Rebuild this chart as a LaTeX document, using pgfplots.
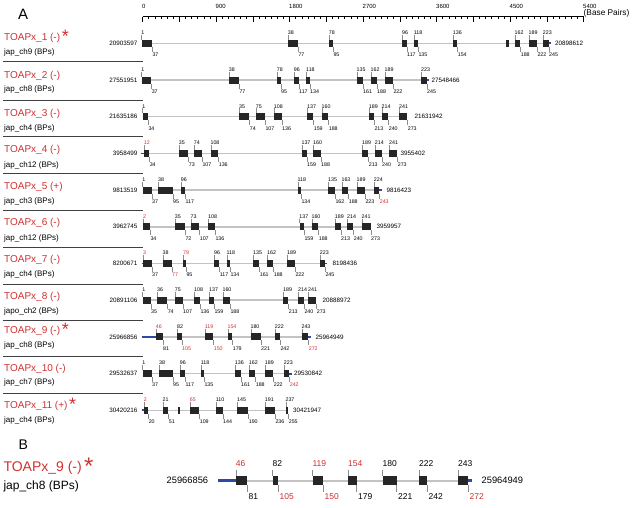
\documentclass[border=0pt]{standalone}
\usepackage{pgfplots}
\pgfplotsset{compat=1.18}
\usepackage{pgfplotstable}
\usepackage{fontspec}
\setmainfont{Liberation Sans}
\definecolor{tred}{RGB}{208,48,48}
\definecolor{tblue}{RGB}{48,72,165}
\definecolor{bbone}{RGB}{195,195,195}
\definecolor{tickg}{RGB}{140,140,140}
\newcommand\lbA{\fontsize{5.3}{5.3}\selectfont}
\newcommand\lbB{\fontsize{8.5}{8.5}\selectfont}
\newcommand\crd{\fontsize{6.3}{6.3}\selectfont}
\newcommand\crdB{\fontsize{9.3}{9.3}\selectfont}
\newcommand\nmA{\fontsize{10}{10}\selectfont}
\newcommand\chA{\fontsize{8}{8}\selectfont}
\newcommand\starA{\raisebox{-2pt}{\fontsize{18}{18}\selectfont *}}
\pgfplotsset{
  nomark/.style={only marks, mark=*, mark size=0pt, mark options={draw=none, fill=none}},
  hseg/.style 2 args={nomark, error bars/.cd, x dir=plus, x explicit, error mark=none, error bar style={line width=#1, draw=#2, line cap=butt}},
  vseg/.style 2 args={nomark, error bars/.cd, y dir=plus, y explicit, error mark=none, error bar style={line width=#1, draw=#2, line cap=butt}},
  lblblack/.style 2 args={nomark, point meta=explicit symbolic,
     x filter/.expression={\thisrow{#2}>0.5 ? nan : x},
     nodes near coords, nodes near coords style={anchor=west, inner sep=0pt, font=#1, text=black}},
  lblred/.style 2 args={nomark, point meta=explicit symbolic,
     x filter/.expression={\thisrow{#2}>0.5 ? x : nan},
     nodes near coords, nodes near coords style={anchor=west, inner sep=0pt, font=#1, text=tred}},
}
% exons: start, end (pixel positions), row, label above, label below, red flags
\pgfplotstableread{
x1 x2 y top bot ct cb
141.5 152.0 43.3 1 37 0 0
288.0 298.0 43.3 38 77 0 0
329.0 333.0 43.3 78 95 0 0
402.3 406.7 43.3 96 117 0 0
414.0 418.0 43.3 118 135 0 0
453.0 457.3 43.3 136 154 0 0
514.7 520.3 43.3 162 188 0 0
528.7 537.0 43.3 189 222 0 0
543.0 548.7 43.3 223 245 0 0
141.5 151.3 80.0 1 37 0 0
229.0 239.0 80.0 38 77 0 0
277.0 280.7 80.0 78 95 0 0
294.0 298.7 80.0 96 117 0 0
306.3 309.7 80.0 118 134 0 0
356.7 362.7 80.0 135 161 0 0
370.7 376.7 80.0 162 188 0 0
384.7 393.0 80.0 189 222 0 0
421.3 426.7 80.0 223 245 0 0
142.5 148.0 116.7 1 34 0 0
239.3 249.3 116.7 35 74 0 0
256.0 265.0 116.7 75 107 0 0
274.0 281.7 116.7 108 136 0 0
307.3 313.3 116.7 137 159 0 0
321.7 328.3 116.7 160 188 0 0
369.0 374.0 116.7 189 213 0 0
381.7 388.3 116.7 214 240 0 0
399.3 407.3 116.7 241 273 0 0
144.0 149.3 153.4 12 34 1 0
179.0 188.3 153.4 35 73 0 0
194.0 202.0 153.4 74 107 0 0
210.7 218.3 153.4 108 136 0 0
301.7 306.7 153.4 137 159 0 0
313.3 320.7 153.4 160 188 0 0
362.3 368.3 153.4 189 213 0 0
375.0 381.7 153.4 214 240 0 0
389.3 397.3 153.4 241 273 0 0
142.5 151.7 190.1 1 37 0 0
158.3 172.7 190.1 38 95 0 0
181.0 185.0 190.1 96 117 0 0
297.7 301.0 190.1 118 134 0 0
328.3 335.0 190.1 135 162 0 0
341.7 348.3 190.1 163 188 0 0
356.7 365.0 190.1 189 223 0 0
374.0 379.3 190.1 224 243 0 1
143.3 150.0 226.8 2 34 1 0
175.0 185.0 226.8 35 72 0 0
190.7 199.3 226.8 73 107 0 0
208.3 215.0 226.8 108 136 0 0
299.5 304.0 226.8 137 159 0 0
311.7 318.3 226.8 160 188 0 0
335.0 340.7 226.8 189 213 0 0
347.3 353.3 226.8 214 240 0 0
361.7 370.7 226.8 241 273 0 0
143.3 151.7 263.5 3 37 1 0
162.7 171.7 263.5 38 77 0 1
183.3 186.0 263.5 79 95 1 0
214.3 219.3 263.5 96 117 0 0
226.7 230.0 263.5 118 134 0 0
253.3 259.3 263.5 135 161 0 0
267.3 273.3 263.5 162 188 0 0
287.3 295.0 263.5 189 222 0 0
320.0 325.0 263.5 223 245 0 0
142.5 150.7 300.2 1 35 0 0
157.3 167.3 300.2 36 74 0 0
175.0 182.7 300.2 75 107 0 0
194.3 200.0 300.2 108 136 0 0
209.3 214.0 300.2 137 159 0 0
222.7 230.0 300.2 160 188 0 0
283.3 288.3 300.2 189 213 0 0
298.3 304.0 300.2 214 240 0 0
308.3 316.3 300.2 241 273 0 0
156.0 162.7 336.9 46 81 1 0
177.3 181.7 336.9 82 105 0 1
205.0 213.3 336.9 119 150 1 1
227.7 232.3 336.9 154 179 1 0
250.7 260.7 336.9 180 221 0 0
275.0 280.0 336.9 222 242 0 0
301.7 308.3 336.9 243 272 0 1
142.5 151.7 373.6 1 37 0 0
159.3 172.7 373.6 38 95 0 0
180.0 185.0 373.6 96 117 0 0
201.0 204.0 373.6 118 135 0 0
235.0 240.7 373.6 136 161 0 0
249.0 255.3 373.6 162 188 0 0
265.0 273.3 373.6 189 222 0 0
284.0 289.3 373.6 223 242 0 1
144.0 148.3 410.3 2 20 1 0
162.7 168.3 410.3 21 51 0 0
190.0 199.3 410.3 65 109 1 0
216.0 222.7 410.3 110 144 0 0
237.3 248.3 410.3 145 190 0 0
265.0 275.0 410.3 191 236 0 0
285.7 288.3 410.3 237 255 0 0
}\exA
\pgfplotstableread{
x1 x2 y top bot ct cb
236.0 247.3 480.5 46 81 1 0
272.7 278.3 480.5 82 105 0 1
312.7 323.3 480.5 119 150 1 1
348.3 356.7 480.5 154 179 1 0
382.7 396.7 480.5 180 221 0 0
419.3 427.3 480.5 222 242 0 0
458.3 468.3 480.5 243 272 0 1
}\exB
\pgfplotstableread{
x1 x2 y
141.5 548.7 43.3
141.5 426.7 80.0
142.5 407.3 116.7
144.0 397.3 153.4
142.5 379.3 190.1
143.3 370.7 226.8
143.3 325.0 263.5
142.5 316.3 300.2
156.0 308.3 336.9
142.5 289.3 373.6
144.0 288.3 410.3
}\bbA
\pgfplotstableread{
x1 x2 y
140.5 144.0 153.4
141.5 143.3 263.5
141.5 156.0 336.9
141.5 144.0 410.3
548.7 551.0 43.3
426.7 429.0 80.0
379.3 381.5 190.1
325.0 327.3 263.5
308.3 310.6 336.9
289.3 291.6 373.6
}\blueA
\pgfplotstableread{
x1 x2 y
506.3 508.7 43.3
177.7 180.0 410.3
}\extraA
\pgfplotstableread{
x1 x2 y
3 143 61.7
3 143 100.0
3 143 136.7
3 143 173.5
3 143 210.5
3 143 247.3
3 143 284.0
3 143 320.5
3 143 356.8
3 143 393.3
}\sepA
% ruler ticks: position (base pairs), top (px), length (px)
\pgfplotstableread{
bp y e
0 16.5 5.3
450 16.5 5.3
900 16.5 5.3
1350 16.5 5.3
1800 16.5 5.3
2250 16.5 5.3
2700 16.5 5.3
3150 16.5 5.3
3600 16.5 5.3
4050 16.5 5.3
4500 16.5 5.3
4950 16.5 5.3
5400 16.5 5.3
}\majT
\pgfplotstableread{
bp y e
75 16.5 2.8
150 16.5 2.8
225 16.5 2.8
300 16.5 2.8
375 16.5 2.8
525 16.5 2.8
600 16.5 2.8
675 16.5 2.8
750 16.5 2.8
825 16.5 2.8
975 16.5 2.8
1050 16.5 2.8
1125 16.5 2.8
1200 16.5 2.8
1275 16.5 2.8
1425 16.5 2.8
1500 16.5 2.8
1575 16.5 2.8
1650 16.5 2.8
1725 16.5 2.8
1875 16.5 2.8
1950 16.5 2.8
2025 16.5 2.8
2100 16.5 2.8
2175 16.5 2.8
2325 16.5 2.8
2400 16.5 2.8
2475 16.5 2.8
2550 16.5 2.8
2625 16.5 2.8
2775 16.5 2.8
2850 16.5 2.8
2925 16.5 2.8
3000 16.5 2.8
3075 16.5 2.8
3225 16.5 2.8
3300 16.5 2.8
3375 16.5 2.8
3450 16.5 2.8
3525 16.5 2.8
3675 16.5 2.8
3750 16.5 2.8
3825 16.5 2.8
3900 16.5 2.8
3975 16.5 2.8
4125 16.5 2.8
4200 16.5 2.8
4275 16.5 2.8
4350 16.5 2.8
4425 16.5 2.8
4575 16.5 2.8
4650 16.5 2.8
4725 16.5 2.8
4800 16.5 2.8
4875 16.5 2.8
5025 16.5 2.8
5100 16.5 2.8
5175 16.5 2.8
5250 16.5 2.8
5325 16.5 2.8
}\minT
\begin{document}
\begin{tikzpicture}
\path[use as bounding box] (0,0) rectangle (636pt,507pt);
\begin{axis}[at={(0,0)}, anchor=south west, scale only axis, width=636pt, height=507pt,
  xmin=0, xmax=636, ymin=0, ymax=507, y dir=reverse, hide axis, clip=false, enlargelimits=false]
% ruler ticks (base pairs mapped onto the 0-5400 ruler)
\addplot[vseg={0.5pt}{black}] table[x expr=142.5+\thisrow{bp}*0.0816667, y=y, y error=e] \majT;
\addplot[vseg={0.45pt}{black}] table[x expr=142.5+\thisrow{bp}*0.0816667, y=y, y error=e] \minT;
% separators
\addplot[hseg={0.8pt}{black!75}] table[x=x1, y=y, x error expr=\thisrow{x2}-\thisrow{x1}] \sepA;
% backbones
\addplot[hseg={1.5pt}{bbone}] table[x=x1, y=y, x error expr=\thisrow{x2}-\thisrow{x1}] \bbA;
\addplot[hseg={2pt}{bbone}] coordinates {(236,480.5) +- (232.3,0)};
% blue UTR
\addplot[hseg={1.8pt}{tblue}] table[x=x1, y=y, x error expr=\thisrow{x2}-\thisrow{x1}] \blueA;
\addplot[hseg={2.4pt}{tblue}] coordinates {(218.3,480.5) +- (17.7,0) (468.3,480.5) +- (3.2,0)};
% leader ticks
\addplot[vseg={0.4pt}{tickg}] table[x=x1, y expr=\thisrow{y}-8.3, y error expr=4.8] \exA;
\addplot[vseg={0.4pt}{tickg}] table[x=x2, y expr=\thisrow{y}+3.5, y error expr=5.0] \exA;
\addplot[vseg={0.5pt}{tickg}] table[x=x1, y expr=\thisrow{y}-10.5, y error expr=6.0] \exB;
\addplot[vseg={0.5pt}{tickg}] table[x=x2, y expr=\thisrow{y}+4.5, y error expr=6.5] \exB;
% exons
\addplot[hseg={7pt}{black!85}] table[x=x1, y=y, x error expr=\thisrow{x2}-\thisrow{x1}] \exA;
\addplot[hseg={7pt}{black!85}] table[x=x1, y=y, x error expr=\thisrow{x2}-\thisrow{x1}] \extraA;
\addplot[hseg={9pt}{black!85}] table[x=x1, y=y, x error expr=\thisrow{x2}-\thisrow{x1}] \exB;
% exon labels
\addplot[lblblack={\lbA}{ct}] table[x expr=\thisrow{x1}-0.3, y expr=\thisrow{y}-10.5, meta=top] \exA;
\addplot[lblred={\lbA}{ct}] table[x expr=\thisrow{x1}-0.3, y expr=\thisrow{y}-10.5, meta=top] \exA;
\addplot[lblblack={\lbA}{cb}] table[x expr=\thisrow{x2}+0.3, y expr=\thisrow{y}+11.5, meta=bot] \exA;
\addplot[lblred={\lbA}{cb}] table[x expr=\thisrow{x2}+0.3, y expr=\thisrow{y}+11.5, meta=bot] \exA;
\addplot[lblblack={\lbB}{ct}] table[x expr=\thisrow{x1}-0.3, y expr=\thisrow{y}-17.2, meta=top] \exB;
\addplot[lblred={\lbB}{ct}] table[x expr=\thisrow{x1}-0.3, y expr=\thisrow{y}-17.2, meta=top] \exB;
\addplot[lblblack={\lbB}{cb}] table[x expr=\thisrow{x2}+1.2, y expr=\thisrow{y}+16.2, meta=bot] \exB;
\addplot[lblred={\lbB}{cb}] table[x expr=\thisrow{x2}+1.2, y expr=\thisrow{y}+16.2, meta=bot] \exB;
% panel letters
\node[anchor=base west, inner sep=0pt, font=\fontsize{15}{15}\selectfont] at (axis cs:18,19.3) {A};
\node[anchor=base west, inner sep=0pt, font=\fontsize{14}{14}\selectfont] at (axis cs:18.3,449.3) {B};
\node[anchor=west, inner sep=0pt, font=\fontsize{8.3}{9}\selectfont] at (axis cs:583.5,13.3) {(Base Pairs)};
% row names
\begin{scope}[every node/.style={anchor=base west, inner sep=0pt}]
\node[text=tred, font=\nmA] at (axis cs:4,40.1) {TOAPx\_1 (-)\,\starA};
\node[text=tred, font=\nmA] at (axis cs:4,78.6) {TOAPx\_2 (-)};
\node[text=tred, font=\nmA] at (axis cs:4,116.6) {TOAPx\_3 (-)};
\node[text=tred, font=\nmA] at (axis cs:4,152.6) {TOAPx\_4 (-)};
\node[text=tred, font=\nmA] at (axis cs:4,189.6) {TOAPx\_5 (+)};
\node[text=tred, font=\nmA] at (axis cs:4,225.6) {TOAPx\_6 (-)};
\node[text=tred, font=\nmA] at (axis cs:4,262.6) {TOAPx\_7 (-)};
\node[text=tred, font=\nmA] at (axis cs:4,299.6) {TOAPx\_8 (-)};
\node[text=tred, font=\nmA] at (axis cs:4,333.6) {TOAPx\_9 (-)\,\starA};
\node[text=tred, font=\nmA] at (axis cs:4,371.6) {TOAPx\_10 (-)};
\node[text=tred, font=\nmA] at (axis cs:4,408.6) {TOAPx\_11 (+)\,\starA};
\node[font=\chA] at (axis cs:4,54.9) {jap\_ch9 (BPs)};
\node[font=\chA] at (axis cs:4,91.9) {jap\_ch8 (BPs)};
\node[font=\chA] at (axis cs:4,130.9) {jap\_ch4 (BPs)};
\node[font=\chA] at (axis cs:4,167.9) {jap\_ch12 (BPs)};
\node[font=\chA] at (axis cs:4,203.9) {jap\_ch3 (BPs)};
\node[font=\chA] at (axis cs:4,240.9) {jap\_ch12 (BPs)};
\node[font=\chA] at (axis cs:4,276.9) {jap\_ch4 (BPs)};
\node[font=\chA] at (axis cs:4,313.9) {japo\_ch2 (BPs)};
\node[font=\chA] at (axis cs:4,347.9) {jap\_ch8 (BPs)};
\node[font=\chA] at (axis cs:4,384.9) {jap\_ch7 (BPs)};
\node[font=\chA] at (axis cs:4,422.9) {jap\_ch4 (BPs)};
\node[text=tred, font=\fontsize{14}{14}\selectfont] at (axis cs:3.3,471) {TOAPx\_9 (-)\,\raisebox{-3pt}{\fontsize{24}{24}\selectfont *}};
\node[font=\fontsize{12}{12}\selectfont] at (axis cs:3.3,489.3) {jap\_ch8 (BPs)};
\end{scope}
% genomic coordinates
\begin{scope}[every node/.style={inner sep=0pt, font=\crd}]
\node[anchor=east] at (axis cs:137.5,43.3) {20903597};
\node[anchor=east] at (axis cs:137.5,80.0) {27551951};
\node[anchor=east] at (axis cs:137.5,116.7) {21635186};
\node[anchor=east] at (axis cs:137.5,153.4) {3958499};
\node[anchor=east] at (axis cs:137.5,190.1) {9813519};
\node[anchor=east] at (axis cs:137.5,226.8) {3962745};
\node[anchor=east] at (axis cs:137.5,263.5) {8200671};
\node[anchor=east] at (axis cs:137.5,300.2) {20891106};
\node[anchor=east] at (axis cs:137.5,336.9) {25966856};
\node[anchor=east] at (axis cs:137.5,373.6) {29532637};
\node[anchor=east] at (axis cs:137.5,410.3) {30420216};
\node[anchor=west] at (axis cs:555,43.3) {20898612};
\node[anchor=west] at (axis cs:431.5,80.0) {27548466};
\node[anchor=west] at (axis cs:414.5,116.7) {21631942};
\node[anchor=west] at (axis cs:400.5,153.4) {3955402};
\node[anchor=west] at (axis cs:386.5,190.1) {9816423};
\node[anchor=west] at (axis cs:376.5,226.8) {3959957};
\node[anchor=west] at (axis cs:332.5,263.5) {8198436};
\node[anchor=west] at (axis cs:322.5,300.2) {20888972};
\node[anchor=west] at (axis cs:315.5,336.9) {25964949};
\node[anchor=west] at (axis cs:294,373.6) {29530842};
\node[anchor=west] at (axis cs:293,410.3) {30421947};
\node[anchor=east, font=\crdB] at (axis cs:208.3,480.5) {25966856};
\node[anchor=west, font=\crdB] at (axis cs:481.5,480.5) {25964949};
\end{scope}
\end{axis}
% base-pair ruler: line and labels
\begin{axis}[at={(142.5pt,490.5pt)}, anchor=north west, scale only axis, width=441pt, height=6pt,
  xmin=0, xmax=5400, ymin=-5, ymax=1, clip=false,
  axis line style={draw=none}, ytick=\empty,
  xtick pos=upper, xticklabel pos=upper, major tick length=0pt,
  xtick={0,900,...,5400}, xticklabels={0,900,1800,2700,3600,4500,5400},
  xticklabel style={anchor=south west, inner sep=0pt, font=\fontsize{6}{6}\selectfont, yshift=7.5pt, xshift=-0.5pt}]
\addplot[black, line width=0.7pt, mark=none] coordinates {(0,1) (5400,1)};
\end{axis}
\end{tikzpicture}
\end{document}
